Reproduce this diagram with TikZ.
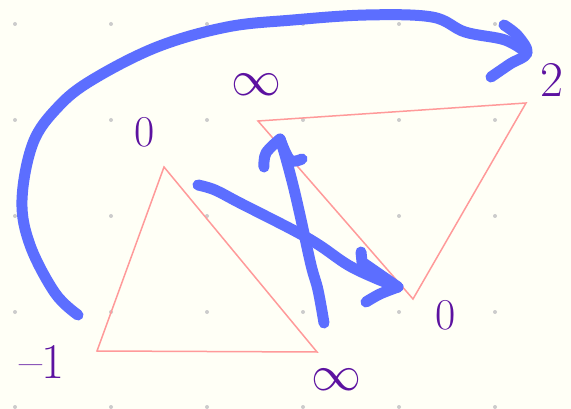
\documentclass[tikz,border=0pt]{standalone}
\usepackage{fontspec}
\newfontfamily\lmmathfont{Latin Modern Math}
\begin{document}
\begin{tikzpicture}[x=1pt,y=-1pt,
  stroke/.style={draw=arrowblue,line width=11pt,line cap=round,line join=round},
  tri/.style={draw=pinkline,line width=1.5pt,line join=miter},
  lab/.style={text=labpurple,inner sep=0pt,font=\fontsize{44}{44}\selectfont},
  inflab/.style={text=labpurple,inner sep=0pt,font=\lmmathfont\fontsize{50}{50}\selectfont},
  griddot/.style={fill=dotgrey,draw=none}]
\definecolor{bgcream}{RGB}{255,255,246}
\definecolor{arrowblue}{RGB}{92,110,255}
\definecolor{pinkline}{RGB}{255,154,154}
\definecolor{labpurple}{RGB}{92,18,160}
\definecolor{dotgrey}{RGB}{204,204,204}
\fill[bgcream] (0,0) rectangle (571,409);
\useasboundingbox (0,0) rectangle (571,409);
% dot grid
\foreach \gx in {15,111,207,303,399,495}
  \foreach \gy in {24,120,216,312,407}
    \fill[griddot] (\gx,\gy) circle (2);
% triangles
\coordinate (a1) at (164,167);
\coordinate (a2) at (97,351);
\coordinate (a3) at (317,352);
\coordinate (b1) at (258,121);
\coordinate (b2) at (526,103);
\coordinate (b3) at (413,299);
\draw[tri] (a1) -- (a2) -- (a3) -- cycle;
\draw[tri] (b1) -- (b2) -- (b3) -- cycle;
% labels
\node[inflab] (inftop) at (256,85) {∞};
\node[lab] (zerotop) at (145,132) {0};
\node[lab,font=\fontsize{50}{50}\selectfont] (two) at (552,80) {2};
\node[lab] (zerobot) at (446,315) {0};
\node[lab,font=\fontsize{50}{50}\selectfont] (minusone) at (42,362) {–1};
\node[inflab] (infbot) at (336,380) {∞};
% big arc arrow
\coordinate (s1) at (78,315);
\coordinate (t1) at (527,53);
\draw[stroke] plot[smooth,tension=0.6] coordinates {(s1) (55,293) (30,245) (22,200) (33,143) (58,107) (92,80) (157,47) (227,27) (293,20) (366,15) (432,17) (465,32) (505,40) (t1)};
\draw[stroke] plot[smooth,tension=0.6] coordinates {(504,25) (518,36) (t1) (510,64) (491,77)};
% diagonal arrow
\coordinate (s2) at (198,185);
\coordinate (t2) at (398,287);
\draw[stroke] plot[smooth,tension=0.6] coordinates {(s2) (215,190) (240,203) (293,230) (319,245) (348,265) (375,278) (t2)};
\draw[stroke] (361,252) -- (362,262) -- (t2);
\draw[stroke] plot[smooth,tension=0.6] coordinates {(366,302) (380,294) (t2)};
% up arrow
\coordinate (s3) at (324,323);
\coordinate (t3) at (280,139);
\draw[stroke] plot[smooth,tension=0.6] coordinates {(s3) (318,290) (311,265) (300,215) (293,185) (285,155) (t3)};
\draw[stroke] plot[smooth,tension=0.6] coordinates {(264,167) (266,153) (t3)};
\draw[stroke] plot[smooth,tension=0.6] coordinates {(t3) (290,160) (302,159)};
\end{tikzpicture}
\end{document}
